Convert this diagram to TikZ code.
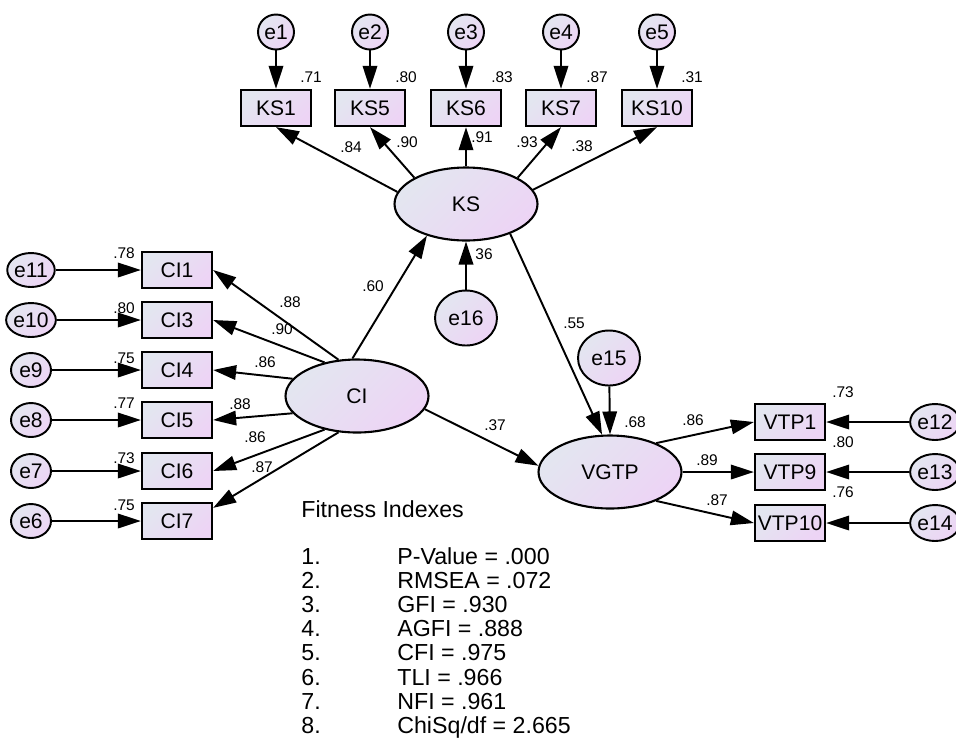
\documentclass[tikz,border=0pt]{standalone}
\usepackage{fontspec}
\setmainfont{Liberation Sans}
\usetikzlibrary{arrows.meta,shapes.geometric}
\definecolor{fillA}{RGB}{227,230,240}
\definecolor{fillB}{RGB}{237,212,245}
\begin{document}
\begin{tikzpicture}[x=0.02cm,y=-0.02cm,
  shadefill/.style={top color=fillA, bottom color=fillB, shading angle=45},
  lbl/.style={font=\fontsize{12}{14}\selectfont},
  obs/.style={draw, rectangle, line width=1.3pt, shadefill, lbl,
    minimum width=1.40cm, minimum height=0.72cm, inner sep=0pt},
  lat/.style={draw, ellipse, line width=1.2pt, shadefill, lbl,
    minimum width=2.86cm, minimum height=1.46cm, inner sep=0pt},
  errT/.style={draw, ellipse, line width=1.1pt, shadefill, lbl,
    minimum width=0.72cm, minimum height=0.70cm, inner sep=0pt},
  errL/.style={errT, minimum width=0.80cm, minimum height=0.68cm},
  errR/.style={errT, minimum width=0.76cm, minimum height=0.72cm},
  errB/.style={errT, minimum width=1.24cm, minimum height=1.10cm},
  conn/.style={-{Triangle[length=0.46cm,width=0.29cm]}, line width=1.1pt},
  val/.style={font=\fontsize{8.8}{10}\selectfont, inner sep=0pt},
  fit/.style={font=\fontsize{13.2}{15}\selectfont, anchor=base west, inner sep=0pt}]

\useasboundingbox (0,0) rectangle (956,745);
\fill[white] (0,0) rectangle (956,745);

% latent variables
\node[lat] (ks) at (466,204) {KS};
\node[lat] (ci) at (357,396) {CI};
\node[lat] (vgtp) at (610,472) {VGTP};

% KS indicators and their errors
\foreach \n/\x in {1/276,5/370,6/466,7/561,10/657}{
  \node[obs] (ks\n) at (\x,108) {KS\n};
}
\node[errT] (e1) at (276,32) {e1};
\node[errT] (e2) at (370,32) {e2};
\node[errT] (e3) at (466,32) {e3};
\node[errT] (e4) at (561,32) {e4};
\node[errT] (e5) at (657,32) {e5};
\draw[conn] (e1) -- (ks1);
\draw[conn] (e2) -- (ks5);
\draw[conn] (e3) -- (ks6);
\draw[conn] (e4) -- (ks7);
\draw[conn] (e5) -- (ks10);
\node[val] (r1) at (311,77) {.71};
\node[val] (r2) at (406,77) {.80};
\node[val] (r3) at (502,77) {.83};
\node[val] (r4) at (597,77) {.87};
\node[val] (r5) at (692,77) {.31};

\draw[conn] (ks.170) -- (ks1.south);
\draw[conn] (ks.153) -- (ks5.south);
\draw[conn] (ks.north) -- (ks6.south);
\draw[conn] (ks.27) -- (ks7.south);
\draw[conn] (ks.12) -- (ks10.south);
\node[val] (l1) at (351,147) {.84};
\node[val] (l2) at (407,142) {.90};
\node[val] (l3) at (482,137) {.91};
\node[val] (l4) at (527,142) {.93};
\node[val] (l5) at (582,146) {.38};

% disturbance of KS
\node[errB] (e16) at (466,318) {e16};
\draw[conn] (e16) -- (ks.south);
\node[val] (r16) at (484,254) {36};

% CI indicators and their errors
\node[obs] (ci1) at (177,270) {CI1};
\node[obs] (ci3) at (177,320) {CI3};
\node[obs] (ci4) at (177,370) {CI4};
\node[obs] (ci5) at (177,420) {CI5};
\node[obs] (ci6) at (177,471) {CI6};
\node[obs] (ci7) at (177,521) {CI7};
\node[errL] (e11) at (31,270) {e11};
\node[errL] (e10) at (31,320) {e10};
\node[errL] (e9) at (31,370) {e9};
\node[errL] (e8) at (31,420) {e8};
\node[errL] (e7) at (31,471) {e7};
\node[errL] (e6) at (31,521) {e6};
\draw[conn] (e11) -- (ci1);
\draw[conn] (e10) -- (ci3);
\draw[conn] (e9) -- (ci4);
\draw[conn] (e8) -- (ci5);
\draw[conn] (e7) -- (ci6);
\draw[conn] (e6) -- (ci7);
\node[val] (r11) at (124,253) {.78};
\node[val] (r10) at (124,308) {.80};
\node[val] (r9) at (124,358) {.75};
\node[val] (r8) at (124,403) {.77};
\node[val] (r7) at (124,458) {.73};
\node[val] (r6) at (124,505) {.75};

\draw[conn] (ci.117) -- (ci1.east);
\draw[conn] (ci.134) -- (ci3.east);
\draw[conn] (ci.165) -- (ci4.east);
\draw[conn] (ci.195) -- (ci5.east);
\draw[conn] (ci.226) -- (ci6.east);
\draw[conn] (ci.243) -- (ci7.20);
\node[val] (m1) at (290,302) {.88};
\node[val] (m3) at (282,329) {.90};
\node[val] (m4) at (265,362) {.86};
\node[val] (m5) at (240,404) {.88};
\node[val] (m6) at (255,437) {.86};
\node[val] (m7) at (262,467) {.87};

% structural paths
\draw[conn] (ci.97) -- (ks.219);
\node[val] (p1) at (373,286) {.60};
\draw[conn] (ci.349) -- (vgtp.175);
\node[val] (p2) at (495,425) {.37};
\draw[conn] (ks.326) -- (vgtp.102);
\node[val] (p3) at (574,323) {.55};

% disturbance of VGTP
\node[errB] (e15) at (609,358) {e15};
\draw[conn] (e15) -- (vgtp.north);
\node[val] (r15) at (635,422) {.68};

% VGTP indicators and their errors
\node[obs] (vtp1) at (790,422) {VTP1};
\node[obs] (vtp9) at (790,472) {VTP9};
\node[obs] (vtp10) at (790,523) {VTP10};
\node[errR] (e12) at (935,422) {e12};
\node[errR] (e13) at (935,472) {e13};
\node[errR] (e14) at (935,523) {e14};
\draw[conn] (e12) -- (vtp1);
\draw[conn] (e13) -- (vtp9);
\draw[conn] (e14) -- (vtp10);
\draw[conn] (vgtp.32) -- (vtp1.west);
\draw[conn] (vgtp.east) -- (vtp9.west);
\draw[conn] (vgtp.328) -- (vtp10.west);
\node[val] (n1) at (693,420) {.86};
\node[val] (n2) at (707,460) {.89};
\node[val] (n3) at (717,500) {.87};
\node[val] (r12) at (843,392) {.73};
\node[val] (r13) at (843,442) {.80};
\node[val] (r14) at (843,492) {.76};

% fit statistics
\node[fit] (fh) at (301,517) {Fitness Indexes};
\foreach \i/\t [count=\k from 0] in {1/{P-Value = .000}, 2/{RMSEA = .072}, 3/{GFI = .930},
    4/{AGFI = .888}, 5/{CFI = .975}, 6/{TLI = .966}, 7/{NFI = .961}, 8/{ChiSq/df = 2.665}}{
  \node[fit] (fn\i) at (301,564+24.2*\k) {\i.};
  \node[fit] (ft\i) at (397,564+24.2*\k) {\t};
}
\end{tikzpicture}
\end{document}
